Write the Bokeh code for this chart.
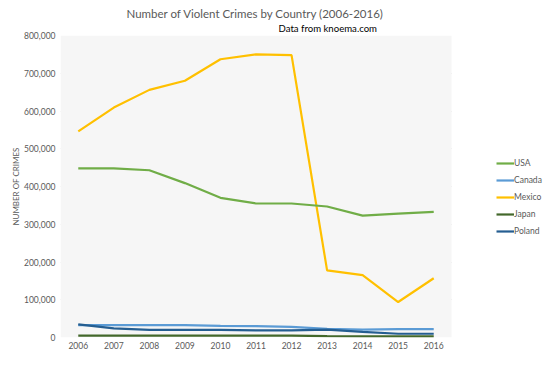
from bokeh.plotting import figure
from bokeh.models import (Legend, LegendItem, Title, FixedTicker,
                          NumeralTickFormatter, BoxAnnotation)
from bokeh.embed import file_html
from bokeh.resources import INLINE

years = [2006, 2007, 2008, 2009, 2010, 2011, 2012, 2013, 2014, 2015, 2016]
usa = [448000, 448000, 443000, 409000, 370000, 355000, 355000, 347000, 323000, 328000, 333000]
canada = [33000, 33000, 33000, 33000, 31000, 30000, 28000, 23000, 21000, 22000, 22000]
mexico = [546000, 609000, 656000, 680000, 737000, 750000, 748000, 178000, 165000, 94000, 157000]
japan = [5000, 5000, 5000, 5000, 5000, 5000, 5000, 3500, 3000, 3000, 3000]
poland = [35000, 24000, 20000, 20000, 20000, 19000, 19000, 21000, 15000, 10000, 10000]
y_ticks = [0, 100000, 200000, 300000, 400000, 500000, 600000, 700000, 800000]

series = [("USA", usa, "#70AD47"), ("Canada", canada, "#5B9BD5"),
          ("Mexico", mexico, "#FFC000"), ("Japan", japan, "#43682B"),
          ("Poland", poland, "#255E91")]

FONT = "Lato"
GREY = "#595959"

X0, X1 = years[0] - 0.5, years[-1] + 0.5
XR = X0 + (X1 - X0) * 484 / 391  # extra room on the right for the legend

p = figure(width=544, height=351, output_backend="svg", toolbar_location=None,
           x_range=(X0, XR), y_range=(0, 800000),
           min_border_left=60, min_border_right=0, min_border_top=0,
           min_border_bottom=0, title=None)
p.background_fill_color = "white"
p.border_fill_color = "white"
p.outline_line_color = None

p.add_layout(BoxAnnotation(left=X0, right=X1, fill_color="#f6f6f6", fill_alpha=1,
                           line_color=None, level="underlay"))

items = []
# draw order: later lines on top
for name, vals, col in [series[2], series[0], series[1], series[4], series[3]]:
    r = p.line(years, vals, line_color=col, line_width=2.2)
    items.append((name, r))
lookup = dict(items)
legend = Legend(items=[LegendItem(label=n, renderers=[lookup[n]]) for n, _, _ in series],
                location=(436, 98), border_line_color=None,
                background_fill_alpha=0, label_text_font=FONT,
                label_text_font_size="8.5px", label_text_color=GREY,
                glyph_width=18, glyph_height=16, label_height=16,
                label_standoff=0, spacing=1, padding=0, margin=0)
p.add_layout(legend, "center")

p.xaxis.ticker = FixedTicker(ticks=years)
p.xaxis.bounds = (X0, X1)
p.yaxis.ticker = FixedTicker(ticks=y_ticks)
p.yaxis.formatter = NumeralTickFormatter(format="0,0")
for ax in (p.xaxis[0], p.yaxis[0]):
    ax.axis_line_color = None
    ax.major_tick_line_color = None
    ax.minor_tick_line_color = None
    ax.major_tick_out = 0
    ax.minor_tick_out = 0
    ax.major_label_text_font = FONT
    ax.major_label_text_font_size = "8.5px"
    ax.major_label_text_color = GREY
p.xaxis.major_label_standoff = 4
p.xaxis.axis_label_standoff = 0
p.xaxis.axis_label_text_font_size = "0px"
p.yaxis.major_label_standoff = 5
p.yaxis.axis_label = "NUMBER OF CRIMES"
p.yaxis.axis_label_text_font = FONT
p.yaxis.axis_label_text_font_size = "8px"
p.yaxis.axis_label_text_font_style = "normal"
p.yaxis.axis_label_text_color = GREY
p.yaxis.axis_label_standoff = 0

p.xgrid.grid_line_color = None
p.ygrid.grid_line_color = "#d9d9d9"
p.ygrid.grid_line_width = 1
p.ygrid.cross_bounds = (X0, X1)

sub = Title(text="Data from knoema.com", align="left", offset=218,
            text_font=FONT, text_font_size="9.6px", text_font_style="normal",
            text_color="black", standoff=3)
p.add_layout(sub, "above")
main = Title(text="Number of Violent Crimes by Country (2006-2016)", align="left",
             offset=66, text_font=FONT, text_font_size="11.5px", text_font_style="normal",
             text_color=GREY, standoff=0)
p.add_layout(main, "above")
spacer = Title(text=" ", text_font_size="2px", standoff=0)
p.add_layout(spacer, "above")

open("out.html", "w").write(file_html(p, INLINE))
